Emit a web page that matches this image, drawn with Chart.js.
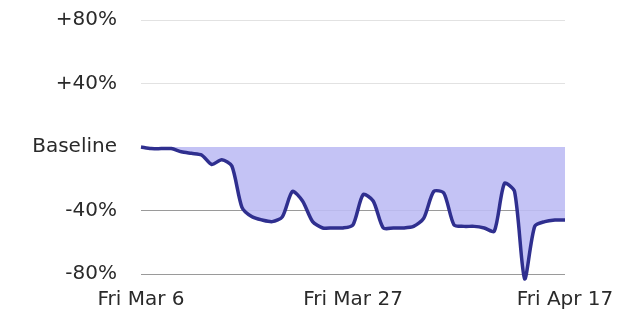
<!DOCTYPE html>
<html>
<head>
<meta charset="utf-8">
<script src="https://cdn.jsdelivr.net/npm/chart.js@4"></script>
<style>
  html, body { margin: 0; padding: 0; background: #fff; overflow: hidden; }
  /* canvas is a bit taller than the window and pulled up, so the plot sits where the original does */
  #wrap { position: relative; top: -16px; width: 630px; height: 331px; }
</style>
</head>
<body>
<div id="wrap"><canvas id="mobilityChart"></canvas></div>
<script>
// days from Fri Mar 6 to Fri Apr 17
const days = [
    'Mar 6', 'Mar 7', 'Mar 8', 'Mar 9', 'Mar 10', 'Mar 11', 'Mar 12', 'Mar 13', 'Mar 14', 'Mar 15',
    'Mar 16', 'Mar 17', 'Mar 18', 'Mar 19', 'Mar 20', 'Mar 21', 'Mar 22', 'Mar 23', 'Mar 24', 'Mar 25',
    'Mar 26', 'Mar 27', 'Mar 28', 'Mar 29', 'Mar 30', 'Mar 31', 'Apr 1', 'Apr 2', 'Apr 3', 'Apr 4',
    'Apr 5', 'Apr 6', 'Apr 7', 'Apr 8', 'Apr 9', 'Apr 10', 'Apr 11', 'Apr 12', 'Apr 13', 'Apr 14',
    'Apr 15', 'Apr 16', 'Apr 17'
];

// percent change vs baseline
const changeFromBaseline = [
    0, -1, -1, -1, -3, -4, -5, -11, -8, -12,
    -38, -44, -46, -47, -44, -28, -34, -47, -51, -51,
    -51, -49, -30, -34, -51, -51, -51, -50, -45, -28,
    -29, -49, -50, -50, -51, -53, -23, -28, -83, -50,
    -47, -46, -46
];

// which categories get a label on the x axis
const xTickLabels = { 0: 'Fri Mar 6', 21: 'Fri Mar 27', 42: 'Fri Apr 17' };
const yTickLabels = { 80: '+80%', 40: '+40%', 0: 'Baseline', '-40': '-40%', '-80': '-80%' };

const labelFont = { family: 'DejaVu Sans', size: 20 };

document.addEventListener('DOMContentLoaded', function() {
    const ctx = document.getElementById('mobilityChart');

    new Chart(ctx, {
        type: 'line',
        data: {
            labels: days,
            datasets: [{
                data: changeFromBaseline,
                borderColor: '#2f2f8f',
                borderWidth: 3.5,
                backgroundColor: 'rgba(190, 188, 244, 0.9)',
                fill: 'origin',
                tension: 0.25,
                pointRadius: 0,
                clip: false
            }]
        },
        options: {
            responsive: true,
            maintainAspectRatio: false,
            animation: false,
            layout: {
                padding: { top: 0, right: 65, bottom: 0, left: 0 }
            },
            plugins: {
                legend: { display: false },
                tooltip: { enabled: false }
            },
            scales: {
                x: {
                    offset: false,
                    afterFit: function(scale) { scale.height = 41; },
                    grid: { display: false, drawTicks: false },
                    border: { display: false },
                    ticks: {
                        autoSkip: false,
                        maxRotation: 0,
                        padding: 14,
                        color: '#2a2a2a',
                        font: labelFont,
                        callback: function(value, index) {
                            return xTickLabels[index] !== undefined ? xTickLabels[index] : null;
                        }
                    }
                },
                y: {
                    min: -80,
                    max: 80,
                    afterFit: function(scale) { scale.width = 141; },
                    border: { display: false },
                    grid: {
                        drawTicks: false,
                        lineWidth: function(c) { return c.tick && c.tick.value === 0 ? 0 : 1; },
                        color: function(c) {
                            if (!c.tick) return 'transparent';
                            return c.tick.value < 0 ? '#9a9a9a' : '#e2e2e2';
                        }
                    },
                    ticks: {
                        stepSize: 40,
                        padding: 24,
                        color: '#2a2a2a',
                        font: labelFont,
                        callback: function(value) { return yTickLabels[value]; }
                    }
                }
            }
        }
    });
});
</script>
</body>
</html>
